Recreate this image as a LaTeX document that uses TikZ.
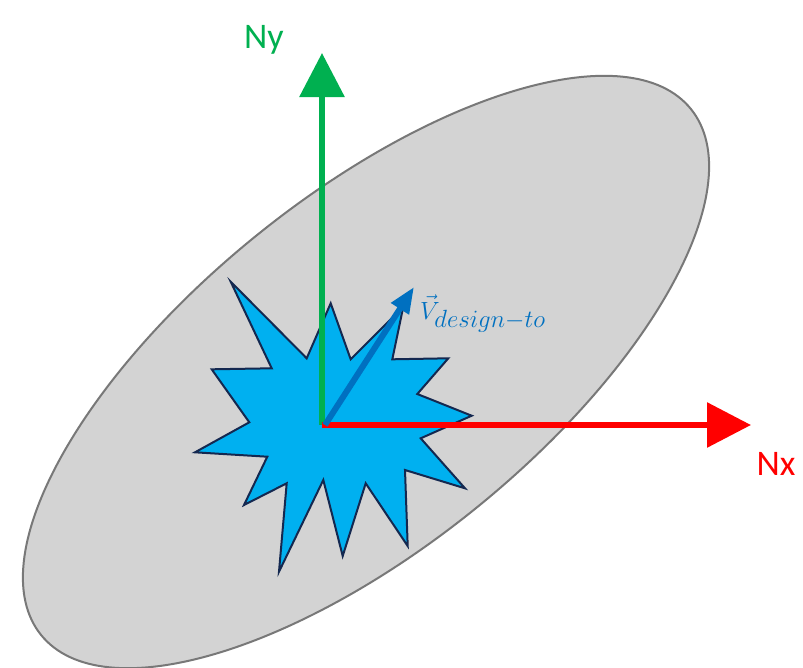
\documentclass[tikz,border=0pt]{standalone}
\usepackage{fontspec}
\setsansfont{Carlito}
\usetikzlibrary{arrows.meta}
\begin{document}
\begin{tikzpicture}[x=1pt,y=-1pt,
  axis/.style={line width=6pt,-{Triangle[width=44pt,length=44pt]}},
  lbl/.style={font=\sffamily\fontsize{36}{40}\selectfont}]
\useasboundingbox (0,0) rectangle (803,667);
\fill[white] (0,0) rectangle (803,667);
\draw[fill={rgb,255:red,211;green,211;blue,211},draw={rgb,255:red,120;green,120;blue,120},line width=2pt]
  (366,372) ellipse[x radius=418,y radius=175,rotate=39];
\draw[fill={rgb,255:red,0;green,176;blue,240},draw={rgb,255:red,20;green,40;blue,80},line width=2pt,line join=miter]
 (230.7,281.7)--(306.7,358.3)--(330.7,303.3)--(350.7,359.3)--(403.3,306.7)--(392.3,359.3)--(448.3,358.3)--(417.3,394)--(471.7,415.7)--(420.7,438.3)--(465,488.3)--(405,470)--(407.7,546)--(365.7,483.3)--(342.7,556)--(323.3,480)--(279,571.7)--(286.7,483.3)--(244,505)--(267.3,456.7)--(195,452.3)--(249.3,422.3)--(211.7,369.3)--(271.7,368.3)--cycle;
\coordinate (o) at (322,425);
\coordinate (ytip) at (322,53);
\coordinate (xtip) at (751,425);
\coordinate (vtip) at (414,287);
\draw[axis,draw={rgb,255:red,0;green,176;blue,80},fill={rgb,255:red,0;green,176;blue,80}] (o) -- (ytip);
\draw[axis,draw=red,fill=red] (o) -- (xtip);
\draw[line width=6pt,draw={rgb,255:red,0;green,112;blue,192},-{Triangle[width=20pt,length=26pt]}] (325,425) -- (vtip);
\node[lbl,text={rgb,255:red,0;green,176;blue,80}] (ny) at (264,40) {Ny};
\node[lbl,text=red] (nx) at (776,464) {Nx};
\node[text={rgb,255:red,0;green,112;blue,192},font=\fontsize{42}{46}\selectfont,anchor=west,inner sep=0pt] (v) at (420,314) {$\vec{V}_{design-to}$};
\end{tikzpicture}
\end{document}
